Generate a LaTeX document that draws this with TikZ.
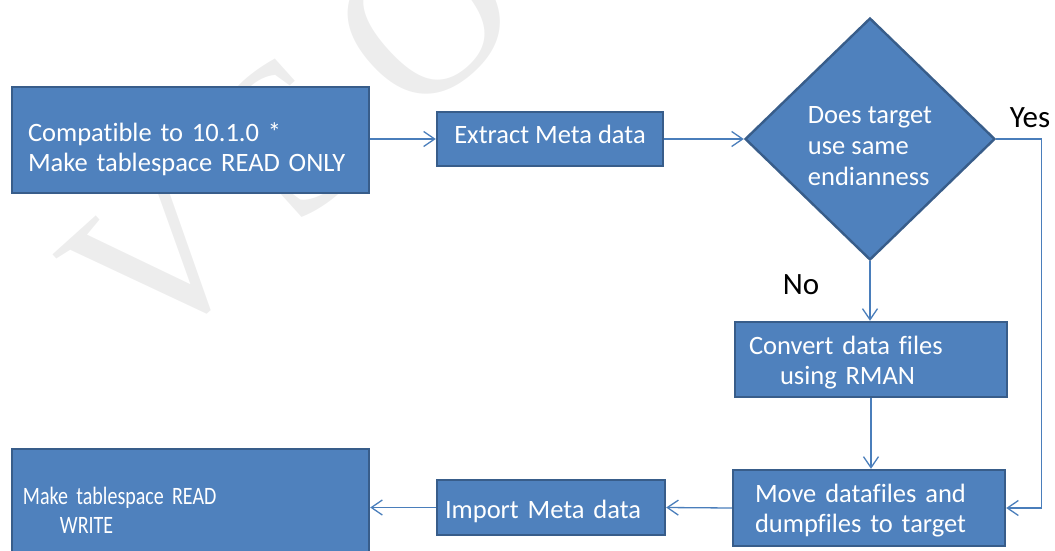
\documentclass[tikz,border=0pt]{standalone}
\usepackage{fontspec}
\setmainfont{Carlito}[Ligatures=NoCommon]
\newfontfamily\wmfont{Liberation Serif}
\newfontfamily\narrowfont[FakeStretch=0.8,Ligatures=NoCommon]{Carlito}
\usetikzlibrary{arrows.meta,positioning,shapes.geometric}
\definecolor{boxfill}{HTML}{4F81BD}
\definecolor{boxline}{HTML}{385D8A}
\definecolor{arrline}{HTML}{4A7EBB}

\begin{document}
\begin{tikzpicture}[x=1pt,y=-1pt,>={Straight Barb[length=11pt,width=15pt]},
  blk/.style={draw=boxline,line width=2.4pt,fill=boxfill,text=white,inner sep=0pt,font=\fontsize{26.5}{30}\selectfont},
  dec/.style={diamond,draw=boxline,line width=2.4pt,fill=boxfill,text=white,inner sep=0pt,align=left,font=\fontsize{26.5}{31}\selectfont},
  flow/.style={->,arrline,line width=1.3pt},
  lbl/.style={black,font=\fontsize{31}{32}\selectfont},
  wmk/.style={gray!14,rotate=42,font=\wmfont\fontsize{220}{220}\selectfont}]
  \clip (0,0) rectangle (1055,550);
  % watermark, behind the boxes
  \node[wmk] (wm) at (292,138) {V\kern38pt S\kern38pt O};
  \node[blk,minimum width=357pt,minimum height=106pt,text width=325pt,align=left,text height=37pt] (ro) at (190.5,140)
    {Compatible to 10.1.0 *\\Make tablespace READ ONLY};
  \node[blk,minimum width=226pt,minimum height=54pt,text depth=10pt] (ext) at (550,139) {Extract Meta data};
  \node[dec,minimum width=250pt,minimum height=242pt,text height=94pt] (chk) at (870,139)
    {Does target\\use same\\endianness};
  \node[blk,minimum width=272pt,minimum height=75pt,text width=244pt,align=left,text height=25pt] (conv) at (871,359.5)
    {Convert data files\\\hspace*{31pt}using RMAN};
  \node[blk,minimum width=272pt,minimum height=76pt,text width=228pt,align=left,text height=23pt] (move) at (869,508)
    {Move datafiles and\\dumpfiles to target};
  \node[blk,minimum width=228pt,minimum height=55pt,text width=212pt,align=left,text height=27pt] (imp) at (551,507.5)
    {Import Meta data};
  \node[blk,minimum width=357pt,minimum height=122pt,text width=335pt,align=left,
    font=\narrowfont\fontsize{25}{29}\selectfont] (rw) at (190.5,510)
    {Make tablespace READ\\\hspace*{37pt}WRITE};
  \node[lbl] (yes) at (1030,118) {Yes};
  \node[lbl] (no) at (801,285) {No};
  % connectors
  \draw[flow] (ext.west -| ro.east) -- (ext.west);
  \draw[flow] (ext.east) -- (chk.west);
  \draw[flow] (chk.south) -- (chk.south |- conv.north);
  \draw[flow] (conv.south) -- (conv.south |- move.north);
  \draw[flow] (chk.east) -- ++(45,0) |- (move.east);
  \draw[flow] (move.west) -- (imp.east);
  \draw[flow] (imp.west) -- (imp.west -| rw.east);
\end{tikzpicture}
\end{document}
